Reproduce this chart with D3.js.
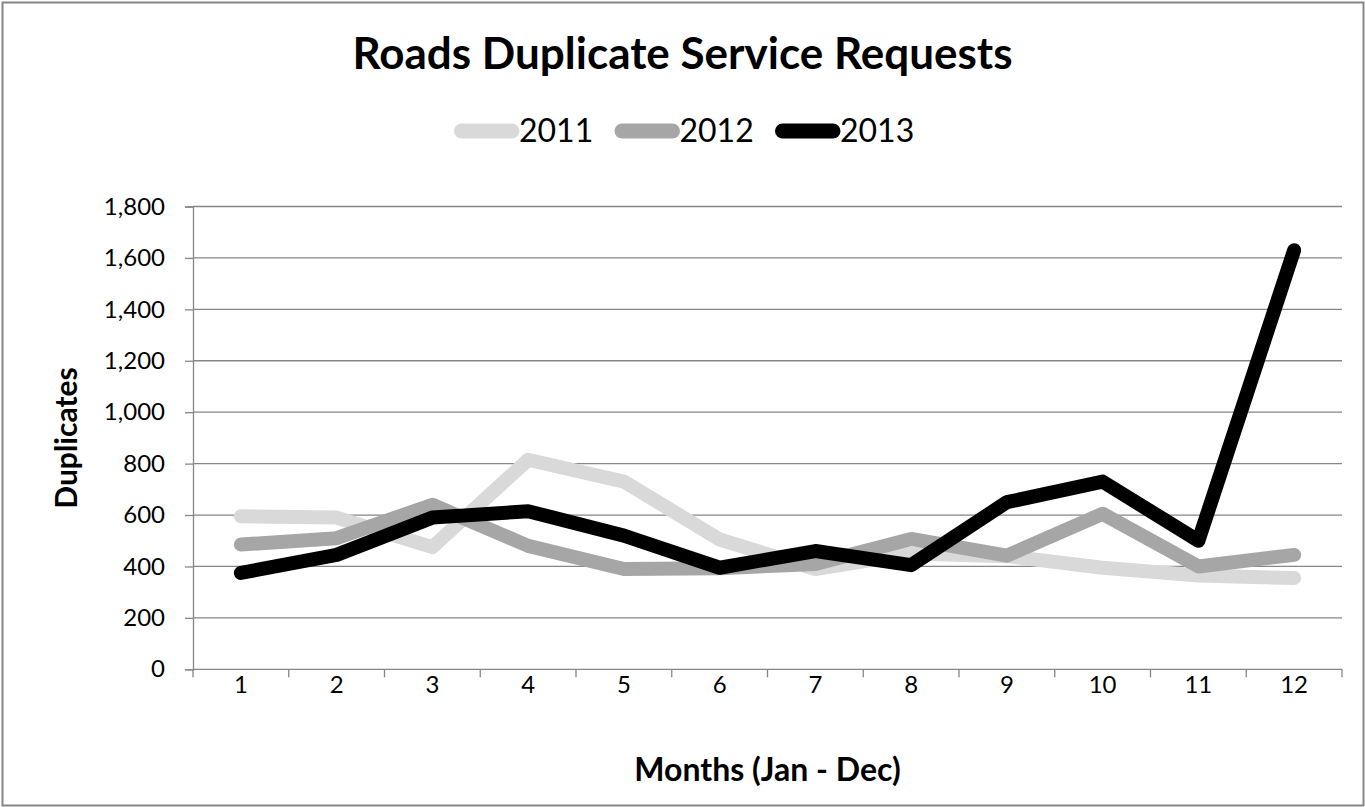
<!DOCTYPE html>
<html lang="en">
<head>
    <meta charset="UTF-8">
    <title>Roads Duplicate Service Requests</title>
    <script src="https://d3js.org/d3.v7.min.js"></script>
    <style>
        body {
            margin: 0;
            background: #ffffff;
            font-family: 'Lato', sans-serif;
        }
        svg text {
            fill: #000;
        }
    </style>
</head>
<body>
<div id="chart"></div>

<script>
    // Data
    const months = [1, 2, 3, 4, 5, 6, 7, 8, 9, 10, 11, 12];
    const years = ["2011", "2012", "2013"];
    const values2011 = [595, 590, 475, 815, 730, 505, 390, 450, 440, 395, 365, 355];
    const values2012 = [485, 510, 640, 480, 390, 393, 410, 507, 442, 605, 400, 445];
    const values2013 = [375, 445, 590, 615, 520, 395, 460, 405, 650, 730, 500, 1630];
    const yTicks = [0, 200, 400, 600, 800, 1000, 1200, 1400, 1600, 1800];
    const colors = ["#d9d9d9", "#a6a6a6", "#000000"];

    const series = [values2011, values2012, values2013].map((v, i) => ({
        name: years[i],
        color: colors[i],
        values: v
    }));

    const width = 1365;
    const height = 807;
    const margin = { top: 206.5, right: 23, bottom: 137.7, left: 193 };
    const innerW = width - margin.left - margin.right;
    const innerH = height - margin.top - margin.bottom;
    const axisColor = "#868686";

    const svg = d3.select("#chart")
        .append("svg")
        .attr("width", width)
        .attr("height", height);

    // chart border
    svg.append("rect")
        .attr("x", 2.5)
        .attr("y", 2.5)
        .attr("width", width - 4)
        .attr("height", height - 4)
        .attr("fill", "white")
        .attr("stroke", axisColor)
        .attr("stroke-width", 2);

    const g = svg.append("g")
        .attr("transform", `translate(${margin.left},${margin.top})`);

    const x = d3.scaleBand()
        .domain(months)
        .range([0, innerW]);

    const y = d3.scaleLinear()
        .domain([0, 1800])
        .range([innerH, 0]);

    // gridlines
    g.append("g")
        .selectAll("line")
        .data(yTicks.slice(1))
        .join("line")
        .attr("x1", 0)
        .attr("x2", innerW)
        .attr("y1", d => y(d))
        .attr("y2", d => y(d))
        .attr("stroke", axisColor)
        .attr("stroke-width", 1.3);

    // y axis
    const yAxis = g.append("g")
        .call(d3.axisLeft(y).tickValues(yTicks).tickSize(8).tickPadding(20).tickFormat(d3.format(",")));
    yAxis.select(".domain").attr("stroke", axisColor).attr("stroke-width", 1.3);
    yAxis.selectAll(".tick line").attr("stroke", axisColor).attr("stroke-width", 1.3);
    yAxis.selectAll(".tick text")
        .style("font-family", "Lato, sans-serif")
        .style("font-size", "24px")
        .attr("fill", "#000");

    // x axis: ticks sit on the band boundaries
    const xAxis = g.append("g")
        .attr("transform", `translate(0,${innerH})`);
    xAxis.append("line")
        .attr("x1", 0).attr("x2", innerW)
        .attr("stroke", axisColor).attr("stroke-width", 1.3);
    const bounds = months.map(m => x(m)).concat([x.range()[1]]);
    xAxis.selectAll(".xtick")
        .data(bounds)
        .join("line")
        .attr("class", "xtick")
        .attr("x1", d => d).attr("x2", d => d)
        .attr("y1", 0).attr("y2", 8)
        .attr("stroke", axisColor).attr("stroke-width", 1.3);
    xAxis.selectAll(".xlabel")
        .data(months)
        .join("text")
        .attr("class", "xlabel")
        .attr("x", d => x(d) + x.bandwidth() / 2)
        .attr("y", 24)
        .attr("text-anchor", "middle")
        .style("font-size", "24px")
        .text(d => d);

    // lines
    const line = d3.line()
        .x((d, i) => x(months[i]) + x.bandwidth() / 2)
        .y(d => y(d));

    g.selectAll(".series")
        .data(series)
        .join("path")
        .attr("class", "series")
        .attr("d", d => line(d.values))
        .attr("fill", "none")
        .attr("stroke", d => d.color)
        .attr("stroke-width", 14)
        .attr("stroke-linecap", "round")
        .attr("stroke-linejoin", "round");

    // title
    svg.append("text")
        .attr("x", width / 2)
        .attr("y", 69)
        .attr("text-anchor", "middle")
        .style("font-size", "44px")
        .style("font-weight", "bold")
        .text("Roads Duplicate Service Requests");

    // legend
    const legend = svg.append("g")
        .attr("transform", "translate(454,131)");
    const itemW = 160.5;
    const item = legend.selectAll(".legend-item")
        .data(series)
        .join("g")
        .attr("class", "legend-item")
        .attr("transform", (d, i) => `translate(${i * itemW},0)`);
    item.append("line")
        .attr("x1", 7.5).attr("x2", 58)
        .attr("stroke", d => d.color)
        .attr("stroke-width", 15)
        .attr("stroke-linecap", "round");
    item.append("text")
        .attr("x", 65)
        .attr("y", 11)
        .style("font-size", "32px")
        .text(d => d.name);

    // axis titles
    svg.append("text")
        .attr("x", margin.left + innerW / 2)
        .attr("y", 781)
        .attr("text-anchor", "middle")
        .style("font-size", "32px")
        .style("font-weight", "bold")
        .text("Months (Jan - Dec)");

    svg.append("text")
        .attr("transform", "translate(77,438) rotate(-90)")
        .attr("text-anchor", "middle")
        .style("font-size", "30px")
        .style("font-weight", "bold")
        .text("Duplicates");
</script>
</body>
</html>
